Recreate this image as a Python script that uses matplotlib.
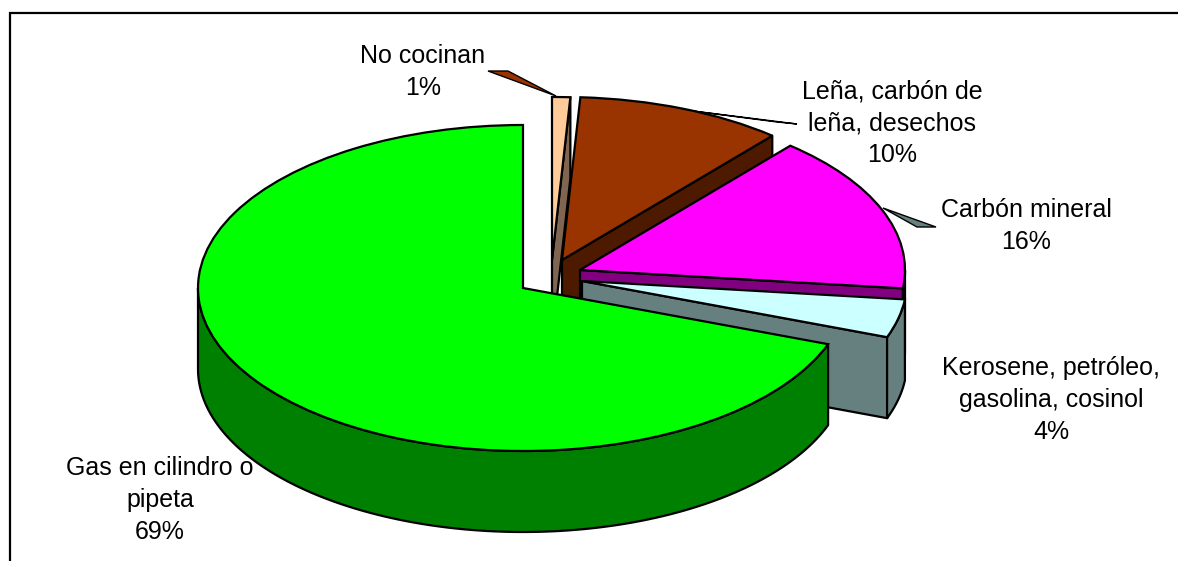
#!/usr/bin/env python3
# -*- coding: utf-8 -*-
"""
Exploded 3D-look pie: cooking fuel shares
"""

import numpy as np
import matplotlib
matplotlib.use('Agg')
import matplotlib.pyplot as plt
from matplotlib.patches import Polygon

plt.rcParams['font.family'] = ['Liberation Sans', 'DejaVu Sans']

# ==================== Data ====================
categories = ['Gas en cilindro o\npipeta', 'Kerosene, petróleo,\ngasolina, cosinol',
              'Carbón mineral', 'Leña, carbón de\nleña, desechos', 'No cocinan']
values = [69.4, 3.8, 15.6, 10.3, 0.9]
percent_labels = ['69%', '4%', '16%', '10%', '1%']

# ==================== Style / layout (reference pixels) ====================
top_colors = ['#00FF00', '#CCFFFF', '#FF00FF', '#993300', '#FFCC99']
wall_colors = ['#008000', '#668080', '#800080', '#4D1A00', '#806650']
W, H = 1178, 561
CX, CY = 523, 288    # pie centre
RX, RY = 325, 163    # ellipse radii
DEPTH_PX = 81
LW = 1.6
# slice shift from centre, pixels (x right, y up)
shift_x = [0, 59, 57, 39, 29]
shift_y = [0, 7, 18, 28, 28]
label_x = [160, 1051, 1026, 892, 423]
label_y = [500, 400, 226, 123, 72]
draw_order = [4, 3, 2, 1, 0]


def px(x, y):
    """Reference pixel position to pie data units"""
    return (x - CX) / RX, (CY - y) / RY


def rim(theta, center):
    t = np.radians(theta)
    return np.column_stack([center[0] + np.cos(t), center[1] + np.sin(t)])


fig = plt.figure(figsize=(W / 100, H / 100), dpi=100, facecolor='white')
ax = fig.add_axes([0, 0, 1, 1])

wedges, _ = ax.pie(values, colors=top_colors, startangle=90, counterclock=True,
                   wedgeprops=dict(edgecolor='black', linewidth=LW))
ax.set_aspect('auto')
ax.set_xlim(px(0, 0)[0], px(W, 0)[0])
ax.set_ylim(px(0, H)[1], px(0, 0)[1])
ax.axis('off')

depth = DEPTH_PX / RY
edges = 90 + np.concatenate([[0], np.cumsum(values)]) / np.sum(values) * 360

for rank, i in enumerate(draw_order):
    center = (shift_x[i] / RX, shift_y[i] / RY)
    a, b = edges[i], edges[i + 1]
    z = 2 + rank * 3

    # radial face on the clockwise side, seen only when it faces the viewer
    if np.sin(np.radians(a - 90)) < 0:
        p = rim([a], center)[0]
        face = [center, p, (p[0], p[1] - depth), (center[0], center[1] - depth)]
        ax.add_patch(Polygon(face, closed=True, facecolor=wall_colors[i],
                             edgecolor='black', linewidth=LW, zorder=z, joinstyle='round'))

    # outer wall, lower half of the ellipse only
    for lo, hi in [(a, b), (a - 360, b - 360), (a + 360, b + 360)]:
        lo2, hi2 = max(lo, 180), min(hi, 360)
        if hi2 > lo2:
            arc = rim(np.linspace(lo2, hi2, 120), center)
            low = arc[::-1] - np.array([0, depth])
            ax.add_patch(Polygon(np.vstack([arc, low]), closed=True, facecolor=wall_colors[i],
                                 edgecolor='black', linewidth=LW, zorder=z + 1, joinstyle='round'))

    wedges[i].set_center(center)
    wedges[i].set_zorder(z + 2)

# leader lines (thin slivers filled with a neighbour's colour)
leaders = [([(488, 71), (508, 71), (556, 96)], top_colors[3]),
           ([(677, 109), (777, 122), (797, 124)], top_colors[2]),
           ([(883, 208), (917, 227), (936, 227)], wall_colors[1])]
for pts, col in leaders:
    ax.add_patch(Polygon([px(*p) for p in pts], closed=True, facecolor=col,
                         edgecolor='black', linewidth=1.0, zorder=1))

# labels
for name, pct, x, y in zip(categories, percent_labels, label_x, label_y):
    lx, ly = px(x, y)
    ax.text(lx, ly, f'{name}\n{pct}', ha='center', va='center', multialignment='center',
            fontsize=18, color='black', linespacing=1.4, zorder=30)

# chart frame: only the left and top sides show in the crop
frame = [px(10, H), px(10, 13), px(W, 13)]
fx, fy = zip(*frame)
ax.plot(fx, fy, color='black', linewidth=1.6, solid_joinstyle='miter', zorder=40)

fig.savefig('out.png', dpi=100, facecolor='white')
